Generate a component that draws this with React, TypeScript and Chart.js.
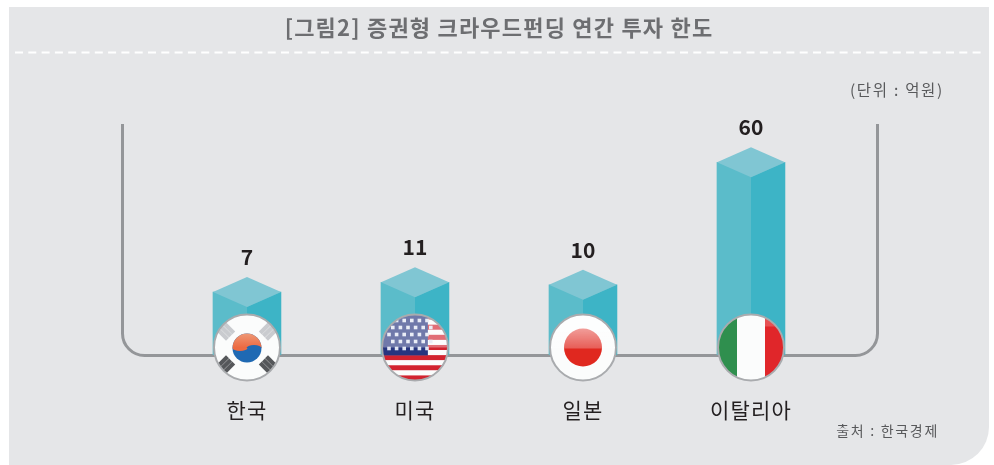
import React, { useEffect, useRef } from "react";
import { Chart, registerables } from "chart.js";

Chart.register(...registerables);

const categories = ["한국", "미국", "일본", "이탈리아"];
const limits = [7, 11, 10, 60];
const flags = ["kr", "us", "jp", "it"];
const titleText = "[그림2] 증권형 크라우드펀딩 연간 투자 한도";
const unitText = "(단위 : 억원)";
const sourceText = "출처 : 한국경제";

const KR = '"Noto Sans CJK KR", "Noto Sans", sans-serif';

function glossed(ctx: CanvasRenderingContext2D, x: number, cy: number, r: number, boundary: number, alpha: number) {
  ctx.fillStyle = `rgba(255,255,255,${alpha})`;
  ctx.beginPath();
  ctx.rect(x - r, cy - r, r * 2, boundary - (cy - r));
  ctx.fill();
}

function drawFlag(ctx: CanvasRenderingContext2D, kind: string, x: number, cy: number, r: number) {
  ctx.save();
  ctx.beginPath();
  ctx.arc(x, cy, r, 0, Math.PI * 2);
  ctx.clip();
  ctx.fillStyle = "#fbfcfc";
  ctx.fillRect(x - r, cy - r, r * 2, r * 2);
  ctx.filter = "blur(0.7px)";
  if (kind === "kr") {
    const tr = 14.5;
    ctx.fillStyle = "#1f69b3";
    ctx.beginPath();
    ctx.arc(x, cy + 0.5, tr, 0, Math.PI * 2);
    ctx.fill();
    const g = ctx.createLinearGradient(0, cy - tr, 0, cy);
    g.addColorStop(0, "#ee9a78");
    g.addColorStop(1, "#ec6a42");
    ctx.fillStyle = g;
    ctx.beginPath();
    ctx.arc(x, cy + 0.5, tr, Math.PI, 0);
    ctx.fill();
    ctx.beginPath();
    ctx.ellipse(x - 7, cy + 0.5, 7.5, 3, 0, 0, Math.PI);
    ctx.fill();
    ctx.fillStyle = "#1f69b3";
    ctx.beginPath();
    ctx.ellipse(x + 7, cy + 0.5, 7.5, 3, 0, Math.PI, 0);
    ctx.fill();
    const corners: [number, number, string, number][] = [
      [-21, 17, "#55575a", 1],
      [21, 17, "#55575a", -1],
      [-21, -16, "#c9cbcf", -1],
      [21, -16, "#c9cbcf", 1],
    ];
    for (const [dx, dy, col, s] of corners) {
      ctx.save();
      ctx.translate(x + dx, cy + dy);
      ctx.rotate((s * Math.PI) / 4 * -1);
      ctx.fillStyle = col;
      for (const o of [-4.4, 0, 4.4]) ctx.fillRect(-6.5, o - 2.1, 13, 4.2);
      ctx.restore();
    }
  } else if (kind === "us") {
    const stripe = (r * 2) / 13;
    for (let i = 0; i < 13; i++) {
      ctx.fillStyle = i % 2 === 0 ? "#d2232f" : "#fbfcfc";
      ctx.fillRect(x - r, cy - r + i * stripe, r * 2, stripe + 0.3);
    }
    ctx.fillStyle = "#27357f";
    ctx.fillRect(x - r, cy - r, r * 1.39, r * 1.24);
    ctx.fillStyle = "#dfe4f2";
    for (let row = 0; row < 5; row++) {
      for (let col = 0; col < 6; col++) {
        ctx.fillRect(x - r + 7 + col * 7.6 + (row % 2 ? 3.8 : 0) - 1.8, cy - r + 6 + row * 7 - 1.8, 3.6, 3.6);
      }
    }
    glossed(ctx, x, cy, r, cy, 0.34);
  } else if (kind === "jp") {
    ctx.fillStyle = "#e0281f";
    ctx.beginPath();
    ctx.arc(x, cy, 19, 0, Math.PI * 2);
    ctx.fill();
    const g = ctx.createLinearGradient(0, cy - 19, 0, cy + 1);
    g.addColorStop(0, "rgba(255,255,255,0.55)");
    g.addColorStop(1, "rgba(255,255,255,0.25)");
    ctx.fillStyle = g;
    ctx.fillRect(x - r, cy - r, r * 2, r + 1);
  } else {
    ctx.fillStyle = "#2f8f4e";
    ctx.fillRect(x - r, cy - r, r - 14, r * 2);
    ctx.fillStyle = "#e0262a";
    ctx.fillRect(x + 14, cy - r, r, r * 2);
    ctx.fillStyle = "rgba(255,255,255,0.2)";
    ctx.fillRect(x + 14, cy - r, r, 12);
  }
  ctx.restore();
  ctx.strokeStyle = "#a9abae";
  ctx.lineWidth = 2;
  ctx.beginPath();
  ctx.arc(x, cy, r, 0, Math.PI * 2);
  ctx.stroke();
}

const decorPlugin = {
  id: "decor",
  beforeDraw(chart: any) {
    const { ctx } = chart;
    ctx.save();
    ctx.fillStyle = "#ffffff";
    ctx.fillRect(0, 0, chart.width, chart.height);
    ctx.fillStyle = "#e5e6e8";
    ctx.beginPath();
    ctx.roundRect(9, 7, 980, 458, [0, 0, 38, 0]);
    ctx.fill();
    ctx.restore();
    ctx.letterSpacing = "1.2px";
  },
  beforeDatasetsDraw(chart: any) {
    const { ctx, chartArea } = chart;
    ctx.letterSpacing = "0px";
    ctx.save();
    ctx.strokeStyle = "#ffffff";
    ctx.lineWidth = 2;
    ctx.setLineDash([8, 5.3]);
    ctx.beginPath();
    ctx.moveTo(15, 52.5);
    ctx.lineTo(984, 52.5);
    ctx.stroke();
    ctx.setLineDash([]);
    const b = chartArea.bottom + 0.5;
    const l = chartArea.left - 40.5;
    const r = chartArea.right + 42.5;
    const rad = 22;
    ctx.strokeStyle = "#949699";
    ctx.lineWidth = 3;
    ctx.beginPath();
    ctx.moveTo(l, 124);
    ctx.lineTo(l, b - rad);
    ctx.arcTo(l, b, l + rad, b, rad);
    ctx.lineTo(r - rad, b);
    ctx.arcTo(r, b, r, b - rad, rad);
    ctx.lineTo(r, 124);
    ctx.stroke();
    ctx.restore();
  },
  afterDatasetsDraw(chart: any) {
    const { ctx, chartArea } = chart;
    const els = chart.getDatasetMeta(0).data;
    ctx.save();
    els.forEach((el: any, i: number) => {
      const x = el.x;
      const y = el.y;
      const hw = el.width / 2;
      const dh = 15;
      ctx.fillStyle = "#3db4c6";
      ctx.beginPath();
      ctx.moveTo(x, y + dh);
      ctx.lineTo(x + hw, y);
      ctx.lineTo(x + hw, el.base);
      ctx.lineTo(x, el.base);
      ctx.closePath();
      ctx.fill();
      ctx.fillStyle = "#80c6d3";
      ctx.beginPath();
      ctx.moveTo(x, y - dh);
      ctx.lineTo(x + hw, y);
      ctx.lineTo(x, y + dh);
      ctx.lineTo(x - hw, y);
      ctx.closePath();
      ctx.fill();
      drawFlag(ctx, flags[i], x, chartArea.bottom - 7.5, 33);
      ctx.fillStyle = "#231f20";
      ctx.font = `700 21px ${KR}`;
      ctx.textAlign = "center";
      ctx.textBaseline = "middle";
      ctx.fillText(String(limits[i]), x, y - dh - 20);
    });
    ctx.fillStyle = "#58595b";
    ctx.textBaseline = "middle";
    ctx.textAlign = "right";
    ctx.letterSpacing = "1.7px";
    ctx.font = `400 15.5px ${KR}`;
    ctx.fillText(unitText, 944, 90);
    ctx.font = `400 14px ${KR}`;
    ctx.fillText(sourceText, 939, 431);
    ctx.restore();
  },
};

export default function App() {
  const ref = useRef<HTMLCanvasElement>(null);
  useEffect(() => {
    document.body.style.margin = "0";
    const chart = new Chart(ref.current!, {
      type: "bar",
      plugins: [decorPlugin],
      data: {
        labels: categories,
        datasets: [
          {
            data: limits,
            base: -18.7,
            backgroundColor: "#5bbcca",
            barThickness: 68,
            borderWidth: 0,
          },
        ],
      },
      options: {
        responsive: false,
        animation: false,
        layout: { padding: { left: 163, right: 159, top: 0, bottom: 0 } },
        plugins: {
          legend: { display: false },
          tooltip: { enabled: false },
          title: {
            display: true,
            text: titleText,
            color: "#6d6e71",
            font: { family: KR, size: 22, weight: "700" },
            padding: { top: 14, bottom: 8 },
          },
        },
        scales: {
          x: {
            grid: { display: false, drawTicks: false },
            border: { display: false },
            ticks: {
              padding: 42.4,
              color: "#231f20",
              font: { family: KR, size: 21, weight: "400" },
            },
          },
          y: { display: false, min: -18.7, max: 106.5 },
        },
      },
    } as any);
    return () => chart.destroy();
  }, []);
  return <canvas ref={ref} width={994} height={465} style={{ display: "block" }} />;
}
